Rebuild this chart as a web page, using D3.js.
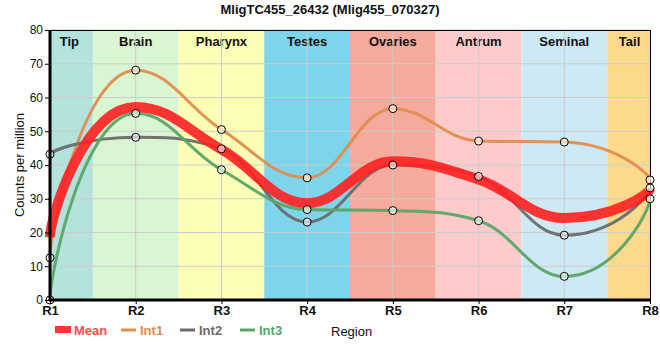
<!DOCTYPE html>
<html><head><meta charset="utf-8">
<script src="https://cdn.jsdelivr.net/npm/d3@7"></script>
<style>body{margin:0;background:#fff;}svg{font-family:"Liberation Sans",Arial,sans-serif;}</style>
</head><body><svg id="c" width="660" height="360"></svg>
<script>
const regions = ["R1","R2","R3","R4","R5","R6","R7","R8"];
const bandNames = ["Tip","Brain","Pharynx","Testes","Ovaries","Antrum","Seminal","Tail"];
const bandColors = ["#b4e2dd","#d9f5d1","#feffb7","#7ed5eb","#f5aa9b","#fdcbcb","#cdeaf4","#fdda8b"];
const int1 = [12.5, 68.1, 50.5, 36.2, 56.7, 47.1, 46.8, 35.6];
const int2 = [43.2, 48.2, 44.8, 23.1, 40.0, 36.6, 19.2, 33.2];
const int3 = [0.0, 55.3, 38.6, 26.8, 26.5, 23.5, 7.0, 30.0];
const mean = [18.6, 57.2, 44.6, 28.7, 41.1, 35.7, 24.3, 32.9];
const yTicks = [0,10,20,30,40,50,60,70,80];
const seriesNames = ["Int1","Int2","Int3"];
const seriesColors = ["#e08d4e","#6b6b6b","#5aa566"];
const meanColor = "#ff2020";

const svg = d3.select("#c");
const L=50,R=650,T=30,B=300;
const x = d3.scalePoint().domain(regions).range([L,R]);
const step = x.step();
const y = d3.scaleLinear().domain([0,80]).range([B,T]);

// smoothed spline path: control handles at 0.4 of neighbour distance, flattened at extremes;
// end segments get a steep tangent at the end point and a longer handle at the neighbour.
function splinePath(vals){
  const pts = vals.map((v,i)=>({x:x(regions[i]), y:y(v)}));
  const n = pts.length, sm = 1.5, den = sm+1;
  for (let i=1;i<n-1;i++){
    const pt=pts[i], last=pts[i-1], next=pts[i+1];
    let lcx=(sm*pt.x+last.x)/den, lcy=(sm*pt.y+last.y)/den;
    let rcx=(sm*pt.x+next.x)/den, rcy=(sm*pt.y+next.y)/den;
    let corr=((rcy-lcy)*(rcx-pt.x))/(rcx-lcx)+pt.y-rcy;
    lcy+=corr; rcy+=corr;
    if (lcy>last.y && lcy>pt.y){ lcy=Math.max(last.y,pt.y); rcy=2*pt.y-lcy; }
    else if (lcy<last.y && lcy<pt.y){ lcy=Math.min(last.y,pt.y); rcy=2*pt.y-lcy; }
    if (rcy>next.y && rcy>pt.y){ rcy=Math.max(next.y,pt.y); lcy=2*pt.y-rcy; }
    else if (rcy<next.y && rcy<pt.y){ rcy=Math.min(next.y,pt.y); lcy=2*pt.y-rcy; }
    pt.lcx=lcx; pt.lcy=lcy; pt.rcx=rcx; pt.rcy=rcy;
  }
  const ext = 1.5, endK = 0.15;
  // extend neighbour handles toward the end points
  const p1=pts[1], pn=pts[n-2];
  p1.lcx = p1.x + (p1.lcx-p1.x)*ext; p1.lcy = p1.y + (p1.lcy-p1.y)*ext;
  pn.rcx = pn.x + (pn.rcx-pn.x)*ext; pn.rcy = pn.y + (pn.rcy-pn.y)*ext;
  pts[0].rcx = pts[0].x; pts[0].rcy = pts[0].y + endK*(p1.y-pts[0].y);
  const pe = pts[n-1];
  pe.lcx = pe.x; pe.lcy = pe.y + endK*(pn.y-pe.y);
  const p = d3.path();
  p.moveTo(pts[0].x, pts[0].y);
  for (let i=1;i<n;i++){
    const a=pts[i-1], b=pts[i];
    p.bezierCurveTo(a.rcx,a.rcy,b.lcx,b.lcy,b.x,b.y);
  }
  return p.toString();
}

// bands
const g = svg.append("g");
bandNames.forEach((n,i)=>{
  const cx = x(regions[i]);
  const x0 = Math.max(L, cx-step/2), x1 = Math.min(R, cx+step/2);
  g.append("rect").attr("x",x0).attr("y",T).attr("width",x1-x0).attr("height",B-T).attr("fill",bandColors[i]);
  const lx = i===0 ? (x0+x1)/2-2 : (i===bandNames.length-1 ? (x0+x1)/2+1 : cx);
  g.append("text").attr("x",lx).attr("y",T+16).attr("text-anchor","middle")
    .attr("font-size",13).attr("font-weight","bold").attr("fill","#111").text(n);
});
// grid
yTicks.forEach(t=>{ g.append("line").attr("x1",L).attr("x2",R).attr("y1",y(t)).attr("y2",y(t)).attr("stroke","#cccccc").attr("stroke-width",1); });
regions.forEach(r=>{ g.append("line").attr("x1",x(r)).attr("x2",x(r)).attr("y1",T).attr("y2",B).attr("stroke","#cccccc").attr("stroke-width",1); });

// frame
svg.append("line").attr("x1",L).attr("x2",R).attr("y1",T+0.5).attr("y2",T+0.5).attr("stroke","#000");
svg.append("line").attr("x1",R+0.5).attr("x2",R+0.5).attr("y1",T).attr("y2",B).attr("stroke","#000");

// lines
const lines = svg.append("g");
[int1,int2,int3].forEach((s,k)=>{
  lines.append("path").attr("d",splinePath(s)).attr("fill","none").attr("stroke",seriesColors[k]).attr("stroke-width",3).attr("stroke-opacity",0.95);
});
lines.append("path").attr("d",splinePath(mean)).attr("fill","none").attr("stroke",meanColor).attr("stroke-width",10).attr("stroke-opacity",0.9);

// points
[int1,int2,int3].forEach(s=>{
  svg.append("g").selectAll("circle").data(s).join("circle")
    .attr("cx",(d,i)=>x(regions[i])).attr("cy",d=>y(d)).attr("r",4)
    .attr("fill","#fff").attr("fill-opacity",0.6).attr("stroke","#000").attr("stroke-width",1);
});

// axes
const ya = svg.append("g").attr("transform",`translate(${L},0)`).call(d3.axisLeft(y).tickValues(yTicks).tickSize(5).tickPadding(2));
ya.select(".domain").attr("stroke","#000").attr("stroke-width",3).attr("d",`M0,${T}V${B+1}`);
ya.selectAll("text").attr("font-size",12).attr("fill","#111").style("font-family","Liberation Sans, Arial, sans-serif");
const xa = svg.append("g").attr("transform",`translate(0,${B})`).call(d3.axisBottom(x).tickSize(4).tickPadding(2));
xa.select(".domain").attr("stroke","#000").attr("stroke-width",3).attr("d",`M${L-1},0H${R+1}`);
xa.selectAll("text").attr("font-size",13).attr("font-weight","bold").attr("fill","#111").style("font-family","Liberation Sans, Arial, sans-serif");

// title and labels
svg.append("text").attr("x",330).attr("y",14).attr("text-anchor","middle").attr("font-size",13).attr("font-weight","bold").attr("fill","#111").text("MligTC455_26432 (Mlig455_070327)");
svg.append("text").attr("transform","translate(24,165) rotate(-90)").attr("text-anchor","middle").attr("font-size",13).attr("fill","#111").text("Counts per million");
svg.append("text").attr("x",331).attr("y",336).attr("font-size",13).attr("fill","#111").text("Region");

// legend
const lg = svg.append("g");
lg.append("rect").attr("x",55).attr("y",326).attr("width",16).attr("height",7).attr("fill",meanColor).attr("fill-opacity",0.9);
lg.append("text").attr("x",74).attr("y",335).attr("font-size",13).attr("font-weight","bold").attr("fill","#ff4d4d").text("Mean");
const lx0=[121,180,240];
seriesNames.forEach((n,k)=>{
  lg.append("line").attr("x1",lx0[k]).attr("x2",lx0[k]+15).attr("y1",330).attr("y2",330).attr("stroke",seriesColors[k]).attr("stroke-width",3);
  lg.append("text").attr("x",lx0[k]+19).attr("y",335).attr("font-size",13).attr("font-weight","bold").attr("fill",seriesColors[k]).text(n);
});
</script></body></html>
